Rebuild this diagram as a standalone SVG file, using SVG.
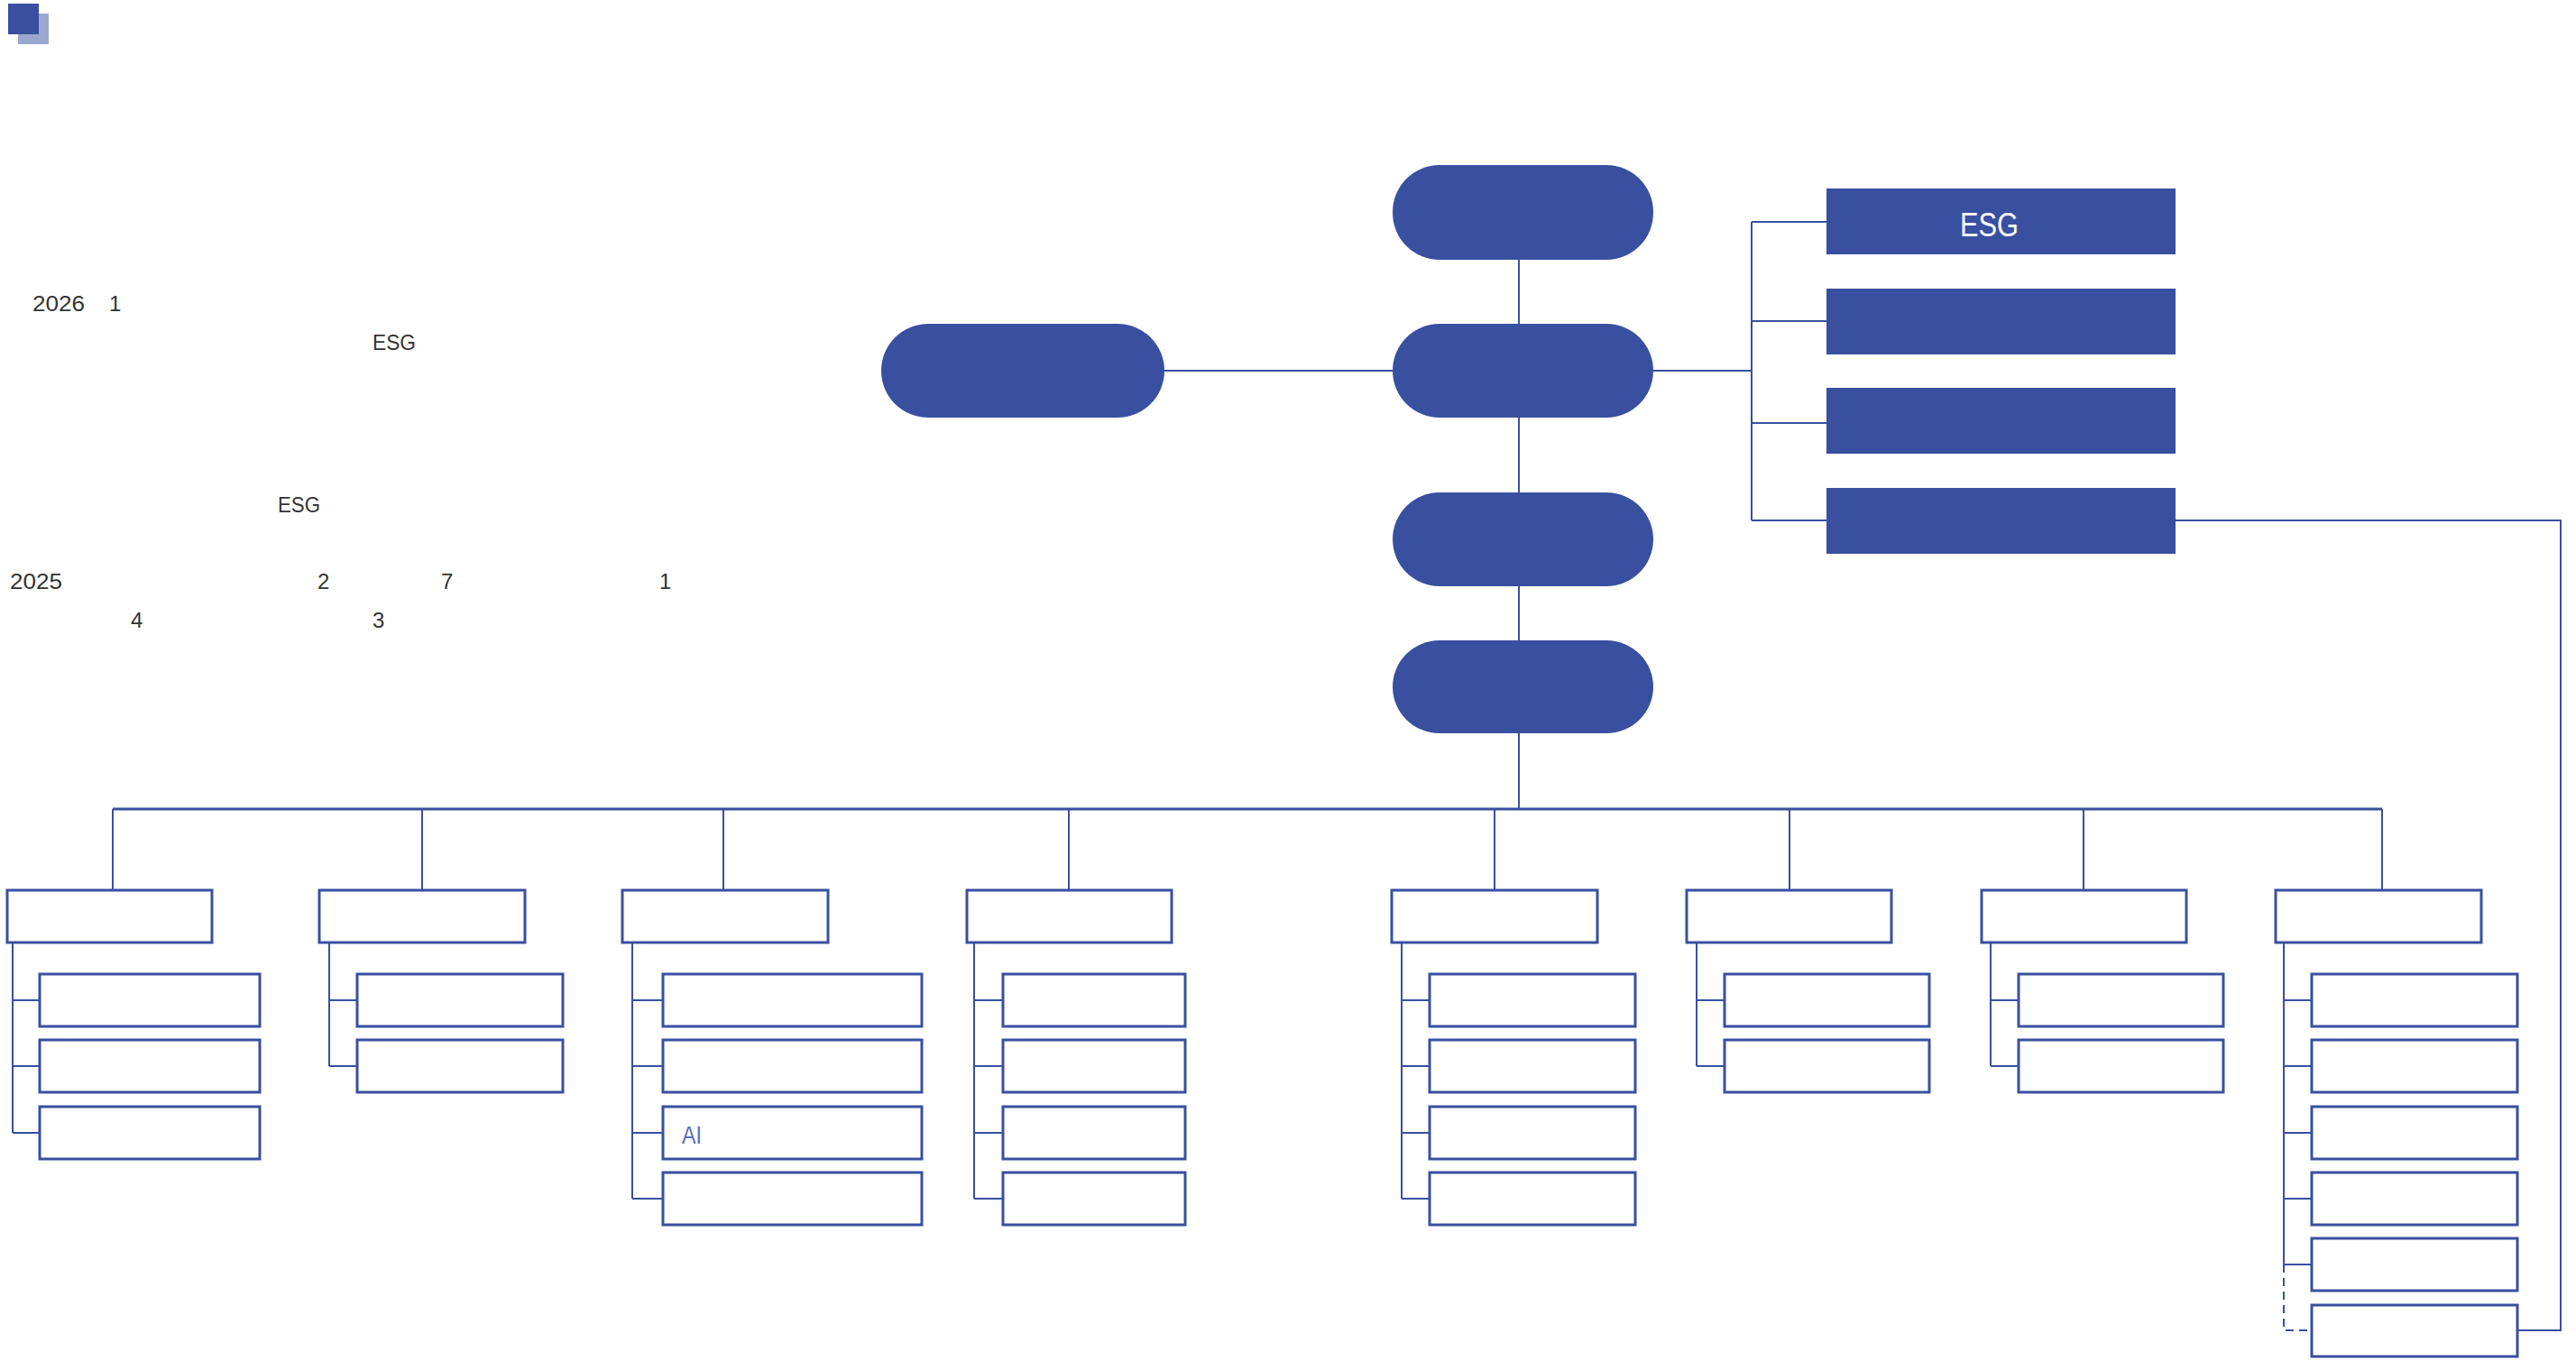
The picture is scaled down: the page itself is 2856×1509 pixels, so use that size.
<svg xmlns="http://www.w3.org/2000/svg" width="2856" height="1509" viewBox="0 0 2856 1509">
<style>
.pill{fill:#3950a0}
.dark{fill:#3950a0}
.box{fill:#fff;stroke:#3950a0;stroke-width:3}
.ln{fill:none;stroke:#3950a0;stroke-width:2}
.bus{fill:none;stroke:#3950a0;stroke-width:3}
.dash{fill:none;stroke:#3950a0;stroke-width:2;stroke-dasharray:9 6}
.t{font-family:"Liberation Sans","Noto Sans CJK SC",sans-serif;font-size:24px;fill:#333}
.w{font-family:"Liberation Sans","Noto Sans CJK SC",sans-serif;font-size:36px;fill:#fff}
.ai{font-family:"Liberation Sans","Noto Sans CJK SC",sans-serif;font-size:27px;fill:#5b6cb8}
</style>
<rect width="2856" height="1509" fill="#fff"/>
<g id="logo">
<rect x="20" y="15" width="34" height="34" fill="#9aa8d0"/>
<rect x="9" y="4" width="34" height="34" fill="#3950a0"/>
</g>
<g id="left-text">
<text class="t" x="36" y="345" textLength="58" lengthAdjust="spacingAndGlyphs">2026</text>
<text class="t" x="121" y="345">1</text>
<text class="t" x="413" y="388" textLength="48" lengthAdjust="spacingAndGlyphs">ESG</text>
<text class="t" x="308" y="568" textLength="47" lengthAdjust="spacingAndGlyphs">ESG</text>
<text class="t" x="11" y="653" textLength="58" lengthAdjust="spacingAndGlyphs">2025</text>
<text class="t" x="352" y="653">2</text>
<text class="t" x="489" y="653">7</text>
<text class="t" x="731" y="653">1</text>
<text class="t" x="145" y="696">4</text>
<text class="t" x="413" y="696">3</text>
</g>
<g id="connectors">
<line class="ln" x1="1684" y1="288" x2="1684" y2="359"/>
<line class="ln" x1="1684" y1="463" x2="1684" y2="546"/>
<line class="ln" x1="1684" y1="650" x2="1684" y2="710"/>
<line class="ln" x1="1684" y1="812" x2="1684" y2="897"/>
<line class="ln" x1="1291" y1="411" x2="1544" y2="411"/>
<line class="ln" x1="1833" y1="411" x2="1942" y2="411"/>
<line class="ln" x1="1942" y1="246" x2="1942" y2="577"/>
<line class="ln" x1="1942" y1="246" x2="2025" y2="246"/>
<line class="ln" x1="1942" y1="356" x2="2025" y2="356"/>
<line class="ln" x1="1942" y1="469" x2="2025" y2="469"/>
<line class="ln" x1="1942" y1="577" x2="2025" y2="577"/>
<polyline class="ln" points="2412,577 2839,577 2839,1475 2791,1475"/>
<line class="bus" x1="125" y1="897" x2="2641" y2="897"/>
<line class="ln" x1="125" y1="897" x2="125" y2="987"/>
<line class="ln" x1="468" y1="897" x2="468" y2="987"/>
<line class="ln" x1="802" y1="897" x2="802" y2="987"/>
<line class="ln" x1="1185" y1="897" x2="1185" y2="987"/>
<line class="ln" x1="1657" y1="897" x2="1657" y2="987"/>
<line class="ln" x1="1984" y1="897" x2="1984" y2="987"/>
<line class="ln" x1="2310" y1="897" x2="2310" y2="987"/>
<line class="ln" x1="2641" y1="897" x2="2641" y2="987"/>
<path class="ln" d="M14 1045V1256M14 1109H44M14 1182H44M14 1256H44"/>
<path class="ln" d="M365 1045V1182M365 1109H396M365 1182H396"/>
<path class="ln" d="M701 1045V1329M701 1109H735M701 1182H735M701 1256H735M701 1329H735"/>
<path class="ln" d="M1080 1045V1329M1080 1109H1112M1080 1182H1112M1080 1256H1112M1080 1329H1112"/>
<path class="ln" d="M1554 1045V1329M1554 1109H1585M1554 1182H1585M1554 1256H1585M1554 1329H1585"/>
<path class="ln" d="M1881 1045V1182M1881 1109H1912M1881 1182H1912"/>
<path class="ln" d="M2207 1045V1182M2207 1109H2238M2207 1182H2238"/>
<path class="ln" d="M2532 1045V1402M2532 1109H2563M2532 1182H2563M2532 1256H2563M2532 1329H2563M2532 1402H2563"/>
<path class="dash" d="M2532 1402V1475H2560"/>
</g>
<g id="top-pill"><rect class="pill" x="1544" y="183" width="289" height="105" rx="52"/></g>
<g id="left-pill"><rect class="pill" x="977" y="359" width="314" height="104" rx="52"/></g>
<g id="center-pill"><rect class="pill" x="1544" y="359" width="289" height="104" rx="52"/></g>
<g id="pill-3"><rect class="pill" x="1544" y="546" width="289" height="104" rx="52"/></g>
<g id="pill-4"><rect class="pill" x="1544" y="710" width="289" height="103" rx="52"/></g>
<g id="r1"><rect class="dark" x="2025" y="209" width="387" height="73"/><text class="w" x="2173" y="262" textLength="65" lengthAdjust="spacingAndGlyphs">ESG</text></g>
<g id="r2"><rect class="dark" x="2025" y="320" width="387" height="73"/></g>
<g id="r3"><rect class="dark" x="2025" y="430" width="387" height="73"/></g>
<g id="r4"><rect class="dark" x="2025" y="541" width="387" height="73"/></g>
<g id="d1"><rect class="box" x="8" y="987" width="227" height="58"/></g>
<g id="d2"><rect class="box" x="354" y="987" width="228" height="58"/></g>
<g id="d3"><rect class="box" x="690" y="987" width="228" height="58"/></g>
<g id="d4"><rect class="box" x="1072" y="987" width="227" height="58"/></g>
<g id="d5"><rect class="box" x="1543" y="987" width="228" height="58"/></g>
<g id="d6"><rect class="box" x="1870" y="987" width="227" height="58"/></g>
<g id="d7"><rect class="box" x="2197" y="987" width="227" height="58"/></g>
<g id="d8"><rect class="box" x="2523" y="987" width="228" height="58"/></g>
<g id="s1-1"><rect class="box" x="44" y="1080" width="244" height="58"/></g>
<g id="s1-2"><rect class="box" x="44" y="1153" width="244" height="58"/></g>
<g id="s1-3"><rect class="box" x="44" y="1227" width="244" height="58"/></g>
<g id="s2-1"><rect class="box" x="396" y="1080" width="228" height="58"/></g>
<g id="s2-2"><rect class="box" x="396" y="1153" width="228" height="58"/></g>
<g id="s3-1"><rect class="box" x="735" y="1080" width="287" height="58"/></g>
<g id="s3-2"><rect class="box" x="735" y="1153" width="287" height="58"/></g>
<g id="s3-3"><rect class="box" x="735" y="1227" width="287" height="58"/><text class="ai" x="756" y="1268" textLength="22" lengthAdjust="spacingAndGlyphs">AI</text></g>
<g id="s3-4"><rect class="box" x="735" y="1300" width="287" height="58"/></g>
<g id="s4-1"><rect class="box" x="1112" y="1080" width="202" height="58"/></g>
<g id="s4-2"><rect class="box" x="1112" y="1153" width="202" height="58"/></g>
<g id="s4-3"><rect class="box" x="1112" y="1227" width="202" height="58"/></g>
<g id="s4-4"><rect class="box" x="1112" y="1300" width="202" height="58"/></g>
<g id="s5-1"><rect class="box" x="1585" y="1080" width="228" height="58"/></g>
<g id="s5-2"><rect class="box" x="1585" y="1153" width="228" height="58"/></g>
<g id="s5-3"><rect class="box" x="1585" y="1227" width="228" height="58"/></g>
<g id="s5-4"><rect class="box" x="1585" y="1300" width="228" height="58"/></g>
<g id="s6-1"><rect class="box" x="1912" y="1080" width="227" height="58"/></g>
<g id="s6-2"><rect class="box" x="1912" y="1153" width="227" height="58"/></g>
<g id="s7-1"><rect class="box" x="2238" y="1080" width="227" height="58"/></g>
<g id="s7-2"><rect class="box" x="2238" y="1153" width="227" height="58"/></g>
<g id="s8-1"><rect class="box" x="2563" y="1080" width="228" height="58"/></g>
<g id="s8-2"><rect class="box" x="2563" y="1153" width="228" height="58"/></g>
<g id="s8-3"><rect class="box" x="2563" y="1227" width="228" height="58"/></g>
<g id="s8-4"><rect class="box" x="2563" y="1300" width="228" height="58"/></g>
<g id="s8-5"><rect class="box" x="2563" y="1373" width="228" height="58"/></g>
<g id="s8-6"><rect class="box" x="2563" y="1447" width="228" height="57"/></g>
</svg>
